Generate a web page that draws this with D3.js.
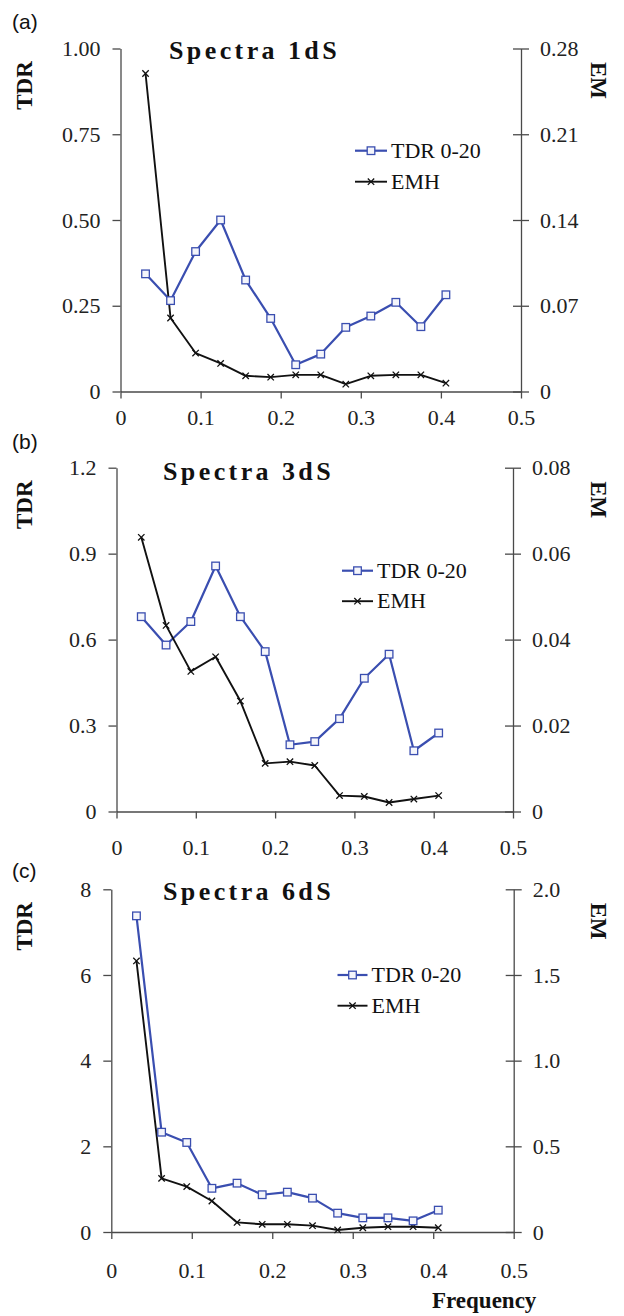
<!DOCTYPE html>
<html>
<head>
<meta charset="utf-8">
<script src="https://cdn.jsdelivr.net/npm/d3@7"></script>
<style>
  html, body { margin: 0; padding: 0; background: #fff; }
  svg { display: block; }
</style>
</head>
<body>
<svg id="chart" width="624" height="1316"></svg>
<script>
// Spectral frequencies (cycles per sample)
const freq = [0.03125, 0.0625, 0.09375, 0.125, 0.15625, 0.1875, 0.21875,
              0.25, 0.28125, 0.3125, 0.34375, 0.375, 0.40625];

// Spectra 1dS
const tdr1dS = [0.343, 0.265, 0.408, 0.500, 0.325, 0.213, 0.078, 0.109, 0.187, 0.220, 0.260, 0.189, 0.282];
const emh1dS = [0.2596, 0.060, 0.0314, 0.0229, 0.0128, 0.0117, 0.0136, 0.0136, 0.0060, 0.0128, 0.0136, 0.0136, 0.0068];

// Spectra 3dS
const tdr3dS = [0.680, 0.581, 0.663, 0.857, 0.680, 0.558, 0.233, 0.244, 0.324, 0.465, 0.549, 0.212, 0.274];
const emh3dS = [0.0638, 0.0433, 0.0326, 0.0360, 0.0257, 0.0112, 0.0116, 0.0107, 0.0037, 0.0035, 0.0021, 0.0029, 0.0037];

// Spectra 6dS
const tdr6dS = [7.38, 2.33, 2.09, 1.02, 1.14, 0.87, 0.93, 0.79, 0.44, 0.33, 0.33, 0.26, 0.51];
const emh6dS = [1.582, 0.313, 0.265, 0.181, 0.056, 0.045, 0.045, 0.037, 0.012, 0.025, 0.031, 0.031, 0.025];

// Axis ticks
const freqTicks = [0, 0.1, 0.2, 0.3, 0.4, 0.5];
const freqTickLabels = ["0", "0.1", "0.2", "0.3", "0.4", "0.5"];
const tdrTicks1 = [0, 0.25, 0.5, 0.75, 1.0];
const tdrTickLabels1 = ["0", "0.25", "0.50", "0.75", "1.00"];
const emTicks1 = [0, 0.07, 0.14, 0.21, 0.28];
const emTickLabels1 = ["0", "0.07", "0.14", "0.21", "0.28"];
const tdrTicks3 = [0, 0.3, 0.6, 0.9, 1.2];
const tdrTickLabels3 = ["0", "0.3", "0.6", "0.9", "1.2"];
const emTicks3 = [0, 0.02, 0.04, 0.06, 0.08];
const emTickLabels3 = ["0", "0.02", "0.04", "0.06", "0.08"];
const tdrTicks6 = [0, 2, 4, 6, 8];
const tdrTickLabels6 = ["0", "2", "4", "6", "8"];
const emTicks6 = [0, 0.5, 1.0, 1.5, 2.0];
const emTickLabels6 = ["0", "0.5", "1.0", "1.5", "2.0"];

const seriesNames = ["TDR 0-20", "EMH"];
const BLUE = "#3a4eb0";
const AXIS = "#4a4a4a";
const SERIF = "'Liberation Serif', 'Times New Roman', serif";

const panels = [
  { tag: "(a)", title: "Spectra 1dS", tdr: tdr1dS, emh: emh1dS,
    tdrTicks: tdrTicks1, tdrLabels: tdrTickLabels1, emTicks: emTicks1, emLabels: emTickLabels1,
    left: 120.5, right: 521, top: 48.5, bottom: 391.5, xPad: 11,
    tagY: 29, titleX: 169, titleY: 59, legX: 355, legW: 32, legY: 150.7, legGap: 31 },
  { tag: "(b)", title: "Spectra 3dS", tdr: tdr3dS, emh: emh3dS,
    tdrTicks: tdrTicks3, tdrLabels: tdrTickLabels3, emTicks: emTicks3, emLabels: emTickLabels3,
    left: 116.5, right: 513, top: 467.7, bottom: 811.5, xPad: 21,
    tagY: 449, titleX: 163, titleY: 479.5, legX: 342, legW: 31, legY: 570.7, legGap: 30.5 },
  { tag: "(c)", title: "Spectra 6dS", tdr: tdr6dS, emh: emh6dS,
    tdrTicks: tdrTicks6, tdrLabels: tdrTickLabels6, emTicks: emTicks6, emLabels: emTickLabels6,
    left: 111.3, right: 513.7, top: 889.3, bottom: 1232, xPad: 23,
    tagY: 878, titleX: 163, titleY: 900, legX: 337.5, legW: 30, legY: 975, legGap: 30.7 }
];

const svg = d3.select("#chart");

function drawMarkers(g, pts, kind) {
  if (kind === "square") {
    g.selectAll("rect.m").data(pts).join("rect")
      .attr("class", "m")
      .attr("x", d => d[0] - 3.8).attr("y", d => d[1] - 3.8)
      .attr("width", 7.6).attr("height", 7.6)
      .attr("fill", "#f4f5fb").attr("stroke", BLUE).attr("stroke-width", 1.3);
  } else {
    const s = 3.2;
    g.selectAll("path.m").data(pts).join("path")
      .attr("class", "m")
      .attr("d", d => `M${d[0]-s},${d[1]-s}L${d[0]+s},${d[1]+s}M${d[0]-s},${d[1]+s}L${d[0]+s},${d[1]-s}`)
      .attr("stroke", "#111").attr("stroke-width", 1.3).attr("fill", "none");
  }
}

panels.forEach(p => {
  const g = svg.append("g");
  const x = d3.scaleLinear().domain([0, 0.5]).range([p.left, p.right]);
  const yT = d3.scaleLinear().domain([0, p.tdrTicks[p.tdrTicks.length - 1]]).range([p.bottom, p.top]);
  const yE = d3.scaleLinear().domain([0, p.emTicks[p.emTicks.length - 1]]).range([p.bottom, p.top]);

  // Left TDR axis
  const ax1 = g.append("g").attr("transform", `translate(${p.left},0)`)
    .call(d3.axisLeft(yT).tickValues(p.tdrTicks)
      .tickFormat((d, i) => p.tdrLabels[i]).tickSizeInner(8).tickSizeOuter(0).tickPadding(12));
  // Right EM axis (ticks cross the line)
  const ax2 = g.append("g").attr("transform", `translate(${p.right},0)`)
    .call(d3.axisRight(yE).tickValues(p.emTicks)
      .tickFormat((d, i) => p.emLabels[i]).tickSizeInner(8).tickSizeOuter(0).tickPadding(11));
  ax2.selectAll(".tick line").attr("x1", -8);
  // Bottom frequency axis
  const ax3 = g.append("g").attr("transform", `translate(0,${p.bottom})`)
    .call(d3.axisBottom(x).tickValues(freqTicks)
      .tickFormat((d, i) => freqTickLabels[i]).tickSizeInner(7).tickSizeOuter(0).tickPadding(p.xPad));

  [ax1, ax2, ax3].forEach(a => {
    a.attr("font-family", SERIF).attr("font-size", 22);
    a.selectAll("path.domain").attr("stroke", AXIS).attr("stroke-width", 1.3);
    a.selectAll(".tick line").attr("stroke", AXIS).attr("stroke-width", 1.3);
    a.selectAll(".tick text").attr("font-family", SERIF).attr("font-size", 22).attr("fill", "#222");
  });

  // Series lines
  const line = d3.line();
  const ptsT = freq.map((f, i) => [x(f), yT(p.tdr[i])]);
  const ptsE = freq.map((f, i) => [x(f), yE(p.emh[i])]);
  g.append("path").attr("d", line(ptsT)).attr("fill", "none")
    .attr("stroke", BLUE).attr("stroke-width", 2.2).attr("stroke-linejoin", "round");
  g.append("path").attr("d", line(ptsE)).attr("fill", "none")
    .attr("stroke", "#111").attr("stroke-width", 1.9).attr("stroke-linejoin", "round");
  drawMarkers(g.append("g"), ptsE, "cross");
  drawMarkers(g.append("g"), ptsT, "square");

  // Panel tag
  g.append("text").attr("x", 12).attr("y", p.tagY)
    .attr("font-family", "'Liberation Sans', Arial, sans-serif").attr("font-size", 21)
    .attr("fill", "#111").text(p.tag);

  // Title
  g.append("text").attr("x", p.titleX).attr("y", p.titleY)
    .attr("font-family", SERIF)
    .attr("font-weight", "bold").attr("font-size", 26).attr("letter-spacing", 3.4)
    .attr("fill", "#111").text(p.title);

  // Axis titles
  const tdrCy = p.top + 37, emCy = p.top + 32;
  g.append("text").attr("transform", `translate(32,${tdrCy}) rotate(-90)`)
    .attr("text-anchor", "middle")
    .attr("font-family", SERIF)
    .attr("font-weight", "bold").attr("font-size", 23).attr("fill", "#111").text("TDR");
  g.append("text").attr("transform", `translate(591,${emCy}) rotate(90)`)
    .attr("text-anchor", "middle")
    .attr("font-family", SERIF)
    .attr("font-weight", "bold").attr("font-size", 23).attr("fill", "#111").text("EM");

  // Legend
  const lg = g.append("g");
  seriesNames.forEach((name, i) => {
    const ly = p.legY + i * p.legGap;
    const cx = p.legX + p.legW / 2;
    lg.append("line").attr("x1", p.legX).attr("x2", p.legX + p.legW)
      .attr("y1", ly).attr("y2", ly)
      .attr("stroke", i === 0 ? BLUE : "#111").attr("stroke-width", i === 0 ? 2.2 : 1.9);
    drawMarkers(lg.append("g"), [[cx, ly]], i === 0 ? "square" : "cross");
    lg.append("text").attr("x", p.legX + p.legW + 4).attr("y", ly + 7)
      .attr("font-family", SERIF)
      .attr("font-size", 22).attr("fill", "#111").text(name);
  });
});

// Shared x-axis title
svg.append("text").attr("x", 432).attr("y", 1308)
  .attr("font-family", SERIF)
  .attr("font-weight", "bold").attr("font-size", 23).attr("fill", "#111").text("Frequency");
</script>
</body>
</html>
